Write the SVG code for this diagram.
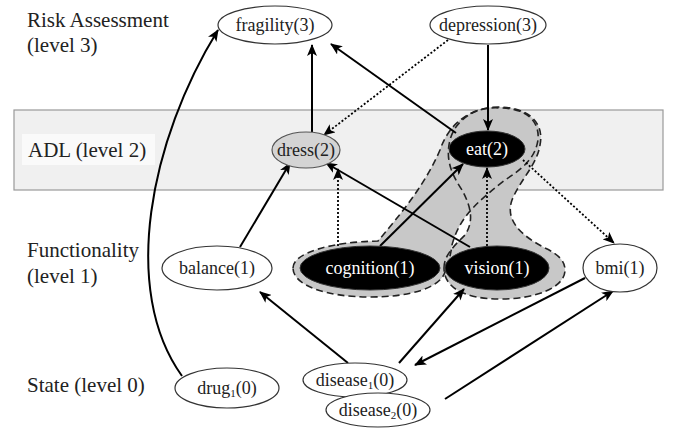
<svg xmlns="http://www.w3.org/2000/svg" width="677" height="430" viewBox="0 0 677 430">
<defs>
<marker id="ah" viewBox="0 0 12 10" refX="11" refY="5" markerWidth="12" markerHeight="10" markerUnits="userSpaceOnUse" orient="auto">
<path d="M0,0 L12,5 L0,10 L3,5 z" fill="#000"/>
</marker>
<path id="blobA" d="M293 268 C293 253 330 242 378 241 C400 215 425 185 440 150 C450 120 475 106 500 108 C525 108 540 120 538 140 C535 160 520 170 505 180 C480 200 460 215 452 245 C450 260 446 268 445 272 C440 288 410 297 370 297 C325 297 293 285 293 268 Z"/>
<path id="blobB" d="M444 268 C444 255 455 245 465 235 C475 220 470 205 462 190 C452 175 445 160 450 140 C455 120 475 107 498 107 C525 107 545 120 540 145 C537 165 520 180 512 200 C505 220 520 235 545 248 C560 255 565 262 565 270 C565 288 535 299 500 299 C465 299 444 288 444 268 Z"/>
</defs>
<style>
.side{font-size:21px;fill:#222}
.lbl{font-size:18px;fill:#222;text-anchor:middle}
.w{fill:#fff}
.n{fill:#fff;stroke:#333;stroke-width:1.2}
.blk{fill:#000;stroke:#333;stroke-width:1}
.e{fill:none;stroke:#000;stroke-width:2;marker-end:url(#ah)}
.d{fill:none;stroke:#000;stroke-width:1.8;stroke-dasharray:2 2;marker-end:url(#ah)}
.bf{fill:#c8c8c8;stroke:none}
.bs{fill:none;stroke:#222;stroke-width:1.6;stroke-dasharray:7 4}
</style>
<rect x="0" y="0" width="677" height="430" fill="#fff"/>
<rect x="14" y="110" width="649" height="80" fill="#f0f0f0" stroke="#999" stroke-width="1.2"/>
<rect x="22" y="134" width="133" height="31" fill="#fafafa"/>
<g id="side-labels" font-family="Liberation Serif, serif">
<text class="side" x="27" y="27">Risk Assessment</text>
<text class="side" x="27" y="52">(level 3)</text>
<text class="side" x="28" y="157">ADL (level 2)</text>
<text class="side" x="27" y="257">Functionality</text>
<text class="side" x="27" y="283">(level 1)</text>
<text class="side" x="27" y="392">State (level 0)</text>
</g>
<g id="groups">
<use href="#blobA" class="bf"/>
<use href="#blobB" class="bf"/>
<use href="#blobA" class="bs"/>
<use href="#blobB" class="bs"/>
</g>
<g id="connectors">
<path class="e" d="M182 376 C120 290 150 140 218 30"/>
<path class="e" d="M312 132 L312 45"/>
<path class="e" d="M456 133 L331 44"/>
<path class="d" d="M448 40 L324 135"/>
<path class="e" d="M488 45 L488 130"/>
<path class="e" d="M240 247 L290 163"/>
<path class="d" d="M338 246 L338 169"/>
<path class="e" d="M470 247 L326 163"/>
<path class="e" d="M380 246 L463 164"/>
<path class="d" d="M487 246 L487 168"/>
<path class="d" d="M523 160 L614 243"/>
<path class="e" d="M348 363 L260 292"/>
<path class="e" d="M399 363 L464 289"/>
<path class="e" d="M585 278 L415 365"/>
<path class="e" d="M445 399 L613 291"/>
</g>
<g id="nodes" font-family="Liberation Serif, Times New Roman, serif">
<g id="fragility"><ellipse class="n" cx="275" cy="25" rx="57" ry="19"/><text class="lbl" x="275" y="31">fragility(3)</text></g>
<g id="depression"><ellipse class="n" cx="488" cy="25" rx="58" ry="19"/><text class="lbl" x="488" y="31">depression(3)</text></g>
<g id="dress"><ellipse cx="306" cy="150" rx="34" ry="18" fill="#d4d4d4" stroke="#555" stroke-width="1.2"/><text class="lbl" x="306" y="156">dress(2)</text></g>
<g id="eat"><ellipse class="blk" cx="487" cy="149" rx="38" ry="18"/><text class="lbl w" x="487" y="155">eat(2)</text></g>
<g id="balance"><ellipse class="n" cx="217" cy="268" rx="55" ry="22"/><text class="lbl" x="217" y="274">balance(1)</text></g>
<g id="cognition"><ellipse class="blk" cx="370" cy="268" rx="70" ry="22"/><text class="lbl w" x="370" y="274">cognition(1)</text></g>
<g id="vision"><ellipse class="blk" cx="497" cy="268" rx="52" ry="22"/><text class="lbl w" x="497" y="274">vision(1)</text></g>
<g id="bmi"><ellipse class="n" cx="620" cy="268" rx="37" ry="24"/><text class="lbl" x="620" y="274">bmi(1)</text></g>
<g id="drug1"><ellipse class="n" cx="227" cy="388" rx="52" ry="20"/><text class="lbl" x="227" y="394">drug<tspan font-size="11" dy="3">1</tspan><tspan dy="-3">(0)</tspan></text></g>
<g id="disease1"><ellipse class="n" cx="355" cy="380" rx="52" ry="17"/><text class="lbl" x="355" y="386">disease<tspan font-size="11" dy="3">1</tspan><tspan dy="-3">(0)</tspan></text></g>
<g id="disease2"><ellipse class="n" cx="378" cy="410" rx="52" ry="17"/><text class="lbl" x="378" y="416">disease<tspan font-size="11" dy="3">2</tspan><tspan dy="-3">(0)</tspan></text></g>
</g>
</svg>
